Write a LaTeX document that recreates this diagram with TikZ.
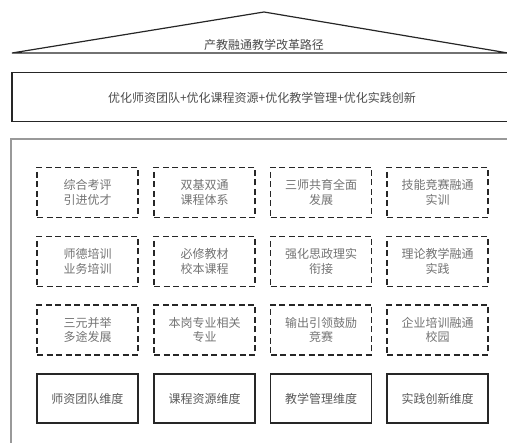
\documentclass[tikz,border=0pt]{standalone}
\usepackage{fontspec}
\setmainfont{Noto Sans CJK SC}
\begin{document}
\begin{tikzpicture}[x=1pt,y=-1pt,
  dbox/.style={draw=black!85,line width=1.4pt,dash pattern=on 6pt off 3.5pt,minimum width=101pt,minimum height=50pt,inner sep=0pt,text=black!55,font=\fontsize{12pt}{14.5pt}\selectfont,align=center},
  sbox/.style={draw=black!85,line width=1.3pt,minimum width=101pt,minimum height=49pt,inner sep=0pt,text=black!65,font=\fontsize{12pt}{14pt}\selectfont,align=center},
  lbl/.style={text=black!70,font=\fontsize{12pt}{14pt}\selectfont,inner sep=0pt}]
\useasboundingbox (0,0) rectangle (507,443);
% roof
\draw[line width=1.2pt,black!85] (12,53) -- (264,12) -- (508,53) -- cycle;
\node[lbl] (title) at (264,45) {产教融通教学改革路径};
% band
\node[draw=black!85,line width=1.5pt,minimum width=500pt,minimum height=49pt,anchor=north west,inner sep=0pt] (band) at (11,72) {};
\node[lbl] (bandtext) at (262,98) {优化师资团队+优化课程资源+优化教学管理+优化实践创新};
% outer frame
\draw[black!40,line width=1.5pt] (11,450) -- (11,139) -- (512,139);
% dashed boxes
\node[dbox] (a1) at (87.5,192.5) {综合考评\\引进优才};
\node[dbox] (a2) at (204.5,192.5) {双基双通\\课程体系};
\node[dbox] (a3) at (321,192.5) {三师共育全面\\发展};
\node[dbox] (a4) at (437.5,192.5) {技能竞赛融通\\实训};
\node[dbox] (b1) at (87.5,261.5) {师德培训\\业务培训};
\node[dbox] (b2) at (204.5,261.5) {必修教材\\校本课程};
\node[dbox] (b3) at (321,261.5) {强化思政理实\\衔接};
\node[dbox] (b4) at (437.5,261.5) {理论教学融通\\实践};
\node[dbox] (c1) at (87.5,330) {三元并举\\多途发展};
\node[dbox] (c2) at (204.5,330) {本岗专业相关\\专业};
\node[dbox] (c3) at (321,330) {输出引领鼓励\\竞赛};
\node[dbox] (c4) at (437.5,330) {企业培训融通\\校园};
% solid boxes
\node[sbox] (d1) at (87.5,398.5) {师资团队维度};
\node[sbox] (d2) at (204.5,398.5) {课程资源维度};
\node[sbox] (d3) at (321,398.5) {教学管理维度};
\node[sbox] (d4) at (437.5,398.5) {实践创新维度};
\end{tikzpicture}
\end{document}
